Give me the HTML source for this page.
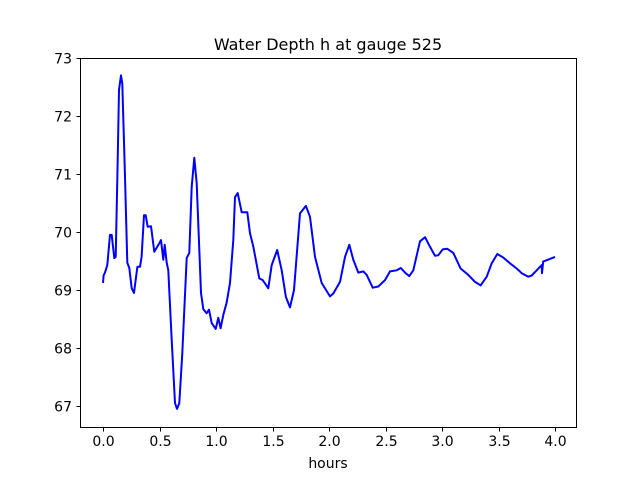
<!DOCTYPE html>
<html><head><meta charset="utf-8"><style>
body{margin:0;background:#fff;}
svg{display:block;font-family:"DejaVu Sans","Liberation Sans",sans-serif;}
</style></head><body>
<svg id="chart" width="640" height="480">
<rect width="640" height="480" fill="#fff"/>
<text x="328" y="50" text-anchor="middle" font-size="16">Water Depth h at gauge 525</text>
<text x="328" y="468" text-anchor="middle" font-size="14">hours</text>
<g id="ticks"></g>
<path id="line" fill="none" stroke="#0000ff" stroke-width="2" stroke-linejoin="round"/>
<rect x="80.5" y="58.5" width="496" height="369" fill="none" stroke="#000" stroke-width="1"/>
</svg>
<script>
const times=[0.000,0.005,0.018,0.038,0.062,0.077,0.100,0.112,0.130,0.142,0.159,0.171,0.195,0.215,0.233,0.254,0.274,0.304,0.327,0.342,0.363,0.378,0.396,0.425,0.454,0.490,0.513,0.534,0.546,0.564,0.578,0.608,0.637,0.655,0.675,0.702,0.741,0.764,0.785,0.808,0.829,0.867,0.888,0.917,0.938,0.962,0.997,1.020,1.041,1.065,1.094,1.124,1.153,1.168,1.192,1.227,1.277,1.301,1.330,1.383,1.413,1.463,1.493,1.542,1.581,1.619,1.655,1.690,1.743,1.796,1.832,1.876,1.935,2.009,2.038,2.097,2.142,2.180,2.215,2.259,2.304,2.334,2.387,2.436,2.496,2.540,2.599,2.635,2.673,2.711,2.746,2.805,2.850,2.879,2.938,2.967,3.006,3.047,3.100,3.165,3.233,3.292,3.342,3.396,3.440,3.489,3.542,3.602,3.661,3.705,3.764,3.794,3.838,3.882,3.885,3.896,4.000];
const depths=[69.12,69.25,69.30,69.43,69.95,69.95,69.55,69.57,71.24,72.45,72.70,72.56,70.95,69.47,69.38,69.03,68.95,69.40,69.40,69.57,70.29,70.29,70.09,70.10,69.66,69.78,69.86,69.52,69.78,69.47,69.34,68.14,67.05,66.95,67.05,67.91,69.55,69.64,70.78,71.28,70.84,68.95,68.67,68.60,68.66,68.43,68.33,68.52,68.34,68.57,68.78,69.12,69.86,70.60,70.67,70.34,70.34,69.98,69.75,69.20,69.17,69.03,69.43,69.69,69.34,68.88,68.70,69.00,70.32,70.45,70.26,69.57,69.12,68.89,68.94,69.14,69.57,69.78,69.52,69.30,69.32,69.26,69.04,69.06,69.17,69.32,69.34,69.38,69.30,69.24,69.34,69.84,69.91,69.80,69.59,69.60,69.70,69.71,69.64,69.37,69.26,69.14,69.08,69.23,69.46,69.62,69.56,69.46,69.37,69.29,69.23,69.25,69.34,69.43,69.29,69.49,69.57];
const xTicks=[0.0,0.5,1.0,1.5,2.0,2.5,3.0,3.5,4.0];
const xTickLabels=["0.0","0.5","1.0","1.5","2.0","2.5","3.0","3.5","4.0"];
const yTicks=[67,68,69,70,71,72,73];
const yTickLabels=["67","68","69","70","71","72","73"];
const X=t=>103+t*113;
const Y=v=>406-(v-67)*58;
const NS="http://www.w3.org/2000/svg";
const g=document.getElementById('ticks');
function mk(tag,attrs){const e=document.createElementNS(NS,tag);for(const k in attrs)e.setAttribute(k,attrs[k]);return e;}
xTicks.forEach((t,i)=>{
 const x=Math.round(X(t))+0.5;
 const l=mk('line',{x1:x,x2:x,y1:427.5,y2:431.5,stroke:'#000'});
 
 
 g.appendChild(l);
 const tx=mk('text',{x:x,y:446,'text-anchor':'middle','font-size':'14'});
 tx.textContent=xTickLabels[i];
 
 
 g.appendChild(tx);
});
yTicks.forEach((v,i)=>{
 const y=Math.round(Y(v))+0.5;
 const l=mk('line',{x1:76.5,x2:80.5,y1:y,y2:y,stroke:'#000'});
 
 
 g.appendChild(l);
 const tx=mk('text',{x:72,y:y+5,'text-anchor':'end','font-size':'14'});
 tx.textContent=yTickLabels[i];
 
 
 g.appendChild(tx);
});
document.getElementById('line').setAttribute('d',times.map((t,i)=>(i?'L':'M')+X(t).toFixed(1)+','+Y(depths[i]).toFixed(1)).join(''));
</script>
</body></html>
